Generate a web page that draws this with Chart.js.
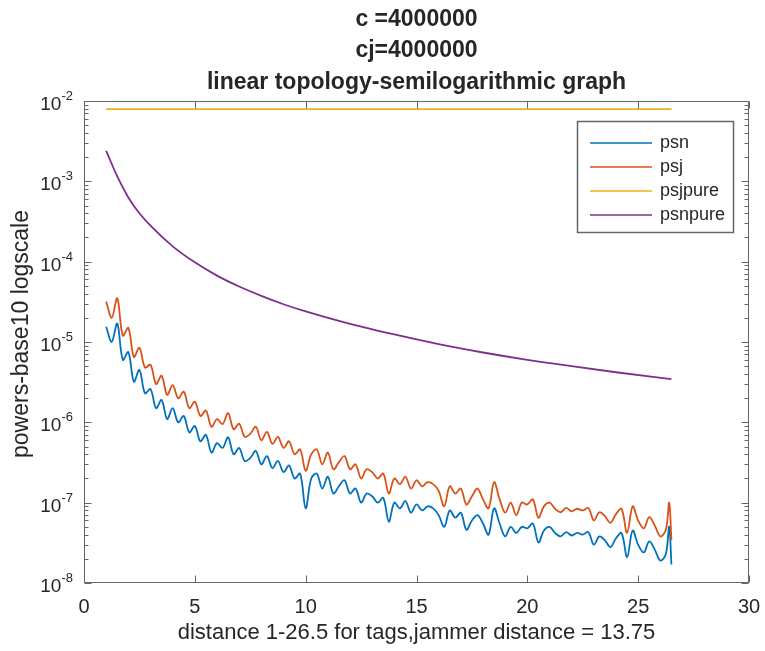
<!DOCTYPE html>
<html lang="en">
<head>
<meta charset="UTF-8">
<title>linear topology-semilogarithmic graph</title>
<script src="https://cdn.jsdelivr.net/npm/chart.js@4.4.1/dist/chart.umd.min.js"></script>
<style>
    html, body { margin: 0; padding: 0; background: #fff; }
    #wrap { width: 765px; height: 651px; }
</style>
</head>
<body>
<div id="wrap"><canvas id="semilogChart"></canvas></div>
<script>
    // text
    const titleLines = ['c =4000000', 'cj=4000000', 'linear topology-semilogarithmic graph'];
    const xTitle = 'distance 1-26.5 for tags,jammer distance = 13.75';
    const yTitle = 'powers-base10 logscale';
    const seriesNames = ['psn', 'psj', 'psjpure', 'psnpure'];

    // ticks
    const xTicks = [0, 5, 10, 15, 20, 25, 30];
    const yExponents = [-2, -3, -4, -5, -6, -7, -8];

    // noisy series, sampled along the tag distance
    const distance = [1, 1.25, 1.5, 1.75, 2, 2.25, 2.5, 2.75, 3, 3.25, 3.5, 3.75, 4, 4.25, 4.5, 4.75, 5, 5.25, 5.5, 5.75,
        6, 6.25, 6.5, 6.75, 7, 7.25, 7.5, 7.75, 8, 8.25, 8.5, 8.75, 9, 9.25, 9.5, 9.75, 10, 10.25, 10.5, 10.75,
        11, 11.25, 11.5, 11.75, 12, 12.25, 12.5, 12.75, 13, 13.25, 13.5, 13.75, 14, 14.25, 14.5, 14.75,
        15, 15.25, 15.5, 15.75, 16, 16.25, 16.5, 16.75, 17, 17.25, 17.5, 17.75, 18, 18.25, 18.5, 18.75,
        19, 19.25, 19.5, 19.75, 20, 20.25, 20.5, 20.75, 21, 21.25, 21.5, 21.75, 22, 22.25, 22.5, 22.75,
        23, 23.25, 23.5, 23.75, 24, 24.25, 24.5, 24.75, 25, 25.25, 25.5, 25.75, 26, 26.25, 26.4, 26.5];

    const psn = [1.55e-5, 1.0e-5, 1.7e-5, 6.0e-6, 7.5e-6, 3.2e-6, 4.5e-6, 2.3e-6, 2.6e-6, 1.5e-6,
        1.9e-6, 1.1e-6, 1.5e-6, 1.0e-6, 1.2e-6, 7.5e-7, 9.0e-7, 5.8e-7, 7.0e-7, 4.2e-7,
        5.5e-7, 4.8e-7, 6.5e-7, 4.0e-7, 4.8e-7, 3.3e-7, 3.6e-7, 4.4e-7, 3.0e-7, 3.8e-7,
        2.7e-7, 3.3e-7, 2.4e-7, 2.9e-7, 2.0e-7, 2.3e-7,
        8.5e-8, 2.0e-7, 2.3e-7, 1.5e-7,
        2.1e-7, 1.3e-7, 1.6e-7, 1.9e-7,
        1.3e-7, 1.5e-7, 1.0e-7, 1.3e-7,
        1.2e-7, 1.0e-7, 1.15e-7, 5.8e-8,
        1.0e-7, 8.5e-8, 1.05e-7, 7.5e-8,
        9.5e-8, 8.0e-8, 9.0e-8, 8.5e-8,
        7.0e-8, 5.0e-8, 8.0e-8, 6.5e-8,
        7.5e-8, 4.6e-8, 6.0e-8, 7.0e-8,
        5.5e-8, 4.0e-8, 8.5e-8, 5.5e-8,
        3.8e-8, 5.0e-8, 4.2e-8, 5.0e-8,
        4.8e-8, 5.5e-8, 3.2e-8, 4.5e-8,
        5.0e-8, 4.2e-8, 3.8e-8, 4.3e-8,
        3.9e-8, 4.2e-8, 4.0e-8, 4.3e-8,
        3.0e-8, 3.8e-8, 3.4e-8, 2.8e-8,
        3.6e-8, 4.2e-8, 2.1e-8, 4.5e-8,
        3.0e-8, 2.4e-8, 3.3e-8, 2.6e-8,
        1.9e-8, 2.3e-8, 5.0e-8, 1.7e-8];

    const psj = [3.2e-5, 2.0e-5, 3.5e-5, 1.2e-5, 1.5e-5, 6.5e-6, 8.5e-6, 4.8e-6, 5.2e-6, 3.0e-6,
        3.8e-6, 2.2e-6, 2.9e-6, 2.0e-6, 2.4e-6, 1.5e-6, 1.8e-6, 1.2e-6, 1.4e-6, 8.8e-7,
        1.1e-6, 9.5e-7, 1.3e-6, 8.2e-7, 9.6e-7, 6.6e-7, 7.2e-7, 8.8e-7, 6.0e-7, 7.6e-7,
        5.4e-7, 6.6e-7, 4.8e-7, 5.8e-7, 4.0e-7, 4.6e-7,
        2.5e-7, 4.0e-7, 4.6e-7, 3.0e-7,
        4.2e-7, 2.6e-7, 3.2e-7, 3.8e-7,
        2.6e-7, 3.0e-7, 2.0e-7, 2.6e-7,
        2.4e-7, 2.0e-7, 2.3e-7, 1.3e-7,
        2.0e-7, 1.7e-7, 2.1e-7, 1.5e-7,
        1.9e-7, 1.6e-7, 1.8e-7, 1.7e-7,
        1.4e-7, 9.0e-8, 1.6e-7, 1.3e-7,
        1.5e-7, 9.5e-8, 1.2e-7, 1.5e-7,
        1.1e-7, 8.5e-8, 1.8e-7, 1.1e-7,
        7.5e-8, 1.0e-7, 7.0e-8, 1.0e-7,
        9.5e-8, 1.1e-7, 6.5e-8, 9.0e-8,
        1.0e-7, 8.4e-8, 7.6e-8, 8.6e-8,
        7.8e-8, 8.4e-8, 8.0e-8, 8.6e-8,
        6.0e-8, 7.6e-8, 6.8e-8, 5.6e-8,
        7.2e-8, 8.4e-8, 4.2e-8, 9.0e-8,
        6.0e-8, 4.8e-8, 6.6e-8, 5.2e-8,
        3.8e-8, 4.6e-8, 1.0e-7, 3.4e-8];

    // smooth reference curves
    const psjpureDistance = [1, 26.5];
    const psjpure = [7.9e-3, 7.9e-3];

    const psnpureDistance = [1, 1.5, 2, 2.5, 3, 4, 5, 6, 7, 8, 9, 10, 12, 14, 16, 18, 20, 22, 24, 26.5];
    const psnpure = [2.4e-3, 1.15e-3, 6.3e-4, 4.0e-4, 2.8e-4, 1.55e-4, 9.8e-5, 6.7e-5, 4.9e-5, 3.75e-5,
        2.95e-5, 2.4e-5, 1.68e-5, 1.24e-5, 9.4e-6, 7.4e-6, 6.0e-6, 5.0e-6, 4.2e-6, 3.45e-6];

    const colors = ['#0072BD', '#D95319', '#EDB120', '#7E2F8E'];
    const fontFamily = '"Liberation Sans", Arial, Helvetica, sans-serif';
    const axisColor = '#666666';
    const textColor = '#262626';

    function toPoints(xs, ys) {
        return xs.map((x, i) => ({ x: x, y: ys[i] }));
    }

    // MATLAB style box, inward ticks, superscript labels, titles and legend
    const matlabLook = {
        id: 'matlabLook',
        afterDatasetsDraw(chart) {
            const { ctx, chartArea: a, scales: { x, y } } = chart;
            const L = Math.round(a.left) + 0.5, R = Math.round(a.right) - 0.5;
            const T = Math.round(a.top) + 0.5, B = Math.round(a.bottom) - 0.5;
            ctx.save();

            ctx.strokeStyle = axisColor;
            ctx.lineWidth = 1;
            ctx.strokeRect(L, T, R - L, B - T);

            ctx.beginPath();
            xTicks.forEach(v => {
                const px = Math.round(x.getPixelForValue(v)) + 0.5;
                ctx.moveTo(px, B); ctx.lineTo(px, B - 7);
                ctx.moveTo(px, T); ctx.lineTo(px, T + 7);
            });
            yExponents.forEach(e => {
                const py = Math.round(y.getPixelForValue(Math.pow(10, e))) + 0.5;
                ctx.moveTo(L, py); ctx.lineTo(L + 7, py);
                ctx.moveTo(R, py); ctx.lineTo(R - 7, py);
                if (e < -2) {
                    for (let m = 2; m <= 9; m++) {
                        const pm = Math.round(y.getPixelForValue(m * Math.pow(10, e))) + 0.5;
                        ctx.moveTo(L, pm); ctx.lineTo(L + 4, pm);
                        ctx.moveTo(R, pm); ctx.lineTo(R - 4, pm);
                    }
                }
            });
            ctx.stroke();

            ctx.fillStyle = textColor;

            // x tick labels
            ctx.font = '20px ' + fontFamily;
            ctx.textAlign = 'center';
            ctx.textBaseline = 'middle';
            xTicks.forEach(v => ctx.fillText(String(v), x.getPixelForValue(v), 607));

            // y tick labels 10^e
            ctx.textAlign = 'left';
            ctx.textBaseline = 'alphabetic';
            yExponents.forEach(e => {
                const py = y.getPixelForValue(Math.pow(10, e));
                const expText = String(e);
                ctx.font = '13px ' + fontFamily;
                const expW = ctx.measureText(expText).width;
                ctx.font = '19px ' + fontFamily;
                const baseW = ctx.measureText('10').width;
                const right = 73;
                ctx.fillText('10', right - expW - baseW, py + 9);
                ctx.font = '13px ' + fontFamily;
                ctx.fillText(expText, right - expW, py - 1);
            });

            // titles
            const cx = (a.left + a.right) / 2;
            ctx.textAlign = 'center';
            ctx.textBaseline = 'middle';
            ctx.font = 'bold 23px ' + fontFamily;
            [20, 51, 83].forEach((ty, i) => ctx.fillText(titleLines[i], cx, ty));

            ctx.font = '22px ' + fontFamily;
            ctx.fillText(xTitle, cx, 633);

            ctx.save();
            ctx.translate(22, 334);
            ctx.rotate(-Math.PI / 2);
            ctx.font = '23px ' + fontFamily;
            ctx.fillText(yTitle, 0, 0);
            ctx.restore();

            // legend
            ctx.fillStyle = '#ffffff';
            ctx.fillRect(577.5, 121.5, 156, 111);
            ctx.strokeStyle = axisColor;
            ctx.lineWidth = 1.5;
            ctx.strokeRect(577.5, 121.5, 156, 111);
            ctx.font = '18px ' + fontFamily;
            ctx.textAlign = 'left';
            const rows = [143, 167, 191, 215];
            seriesNames.forEach((name, i) => {
                ctx.strokeStyle = colors[i];
                ctx.lineWidth = 1.6;
                ctx.beginPath();
                ctx.moveTo(590, rows[i]);
                ctx.lineTo(652, rows[i]);
                ctx.stroke();
                ctx.fillStyle = textColor;
                ctx.fillText(name, 660, rows[i]);
            });

            ctx.restore();
        }
    };

    function lineSet(i, points, order, smooth, tension) {
        return {
            label: seriesNames[i],
            data: points,
            borderColor: colors[i],
            backgroundColor: colors[i],
            borderWidth: 1.8,
            pointRadius: 0,
            fill: false,
            order: order,
            cubicInterpolationMode: smooth ? 'monotone' : 'default',
            tension: tension
        };
    }

    const ctx = document.getElementById('semilogChart').getContext('2d');
    new Chart(ctx, {
        type: 'line',
        data: {
            datasets: [
                lineSet(0, toPoints(distance, psn), 4, false, 0.35),
                lineSet(1, toPoints(distance, psj), 3, false, 0.35),
                lineSet(2, toPoints(psjpureDistance, psjpure), 2, false, 0),
                lineSet(3, toPoints(psnpureDistance, psnpure), 1, true, 0)
            ]
        },
        options: {
            responsive: true,
            maintainAspectRatio: false,
            animation: false,
            layout: { padding: { top: 101, right: 16, left: 0, bottom: 0 } },
            scales: {
                x: {
                    type: 'linear',
                    min: 0,
                    max: 30,
                    grid: { display: false },
                    border: { display: false },
                    ticks: { display: false },
                    afterFit: s => { s.height = 68; }
                },
                y: {
                    type: 'logarithmic',
                    min: 1e-8,
                    max: 1e-2,
                    grid: { display: false },
                    border: { display: false },
                    ticks: { display: false },
                    afterFit: s => { s.width = 84; }
                }
            },
            plugins: {
                legend: { display: false },
                title: { display: false },
                tooltip: { enabled: false }
            }
        },
        plugins: [matlabLook]
    });
</script>
</body>
</html>
